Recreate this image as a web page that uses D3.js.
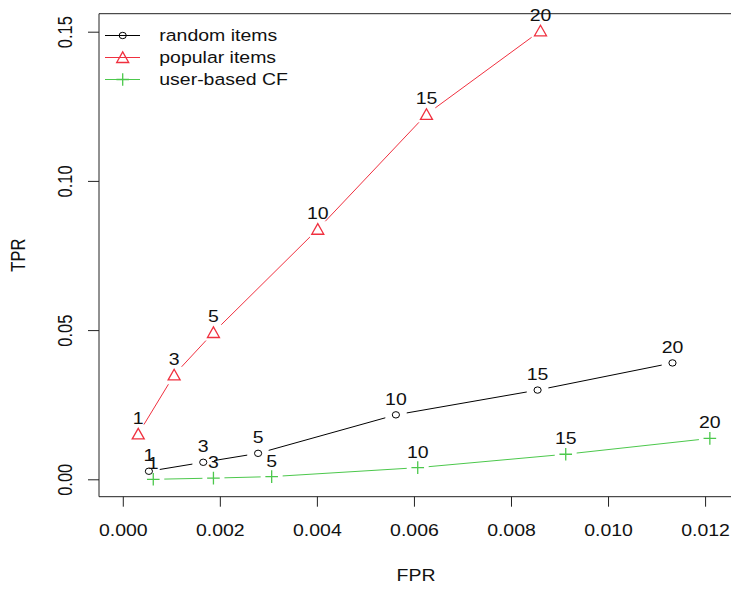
<html><head>
  <script src="https://d3js.org/d3.v7.min.js"></script>
  <style>
    body { margin: 0; background: #fff; }
    text { font-family: 'Liberation Sans', Arial, sans-serif; fill: #111; }
  </style>
</head>
<body>
  <script>
    // list lengths (n) and the three methods
    const nValues = [1, 3, 5, 10, 15, 20]
    const randomFPR = [0.00054, 0.00166, 0.00279, 0.00563, 0.00855, 0.01133]
    const randomTPR = [0.0027, 0.0057, 0.0087, 0.0216, 0.0299, 0.0390]
    const popularFPR = [0.00032, 0.00106, 0.00187, 0.00402, 0.00626, 0.00861]
    const popularTPR = [0.0152, 0.0350, 0.0492, 0.0838, 0.1223, 0.1503]
    const ubcfFPR = [0.00063, 0.00187, 0.00307, 0.00608, 0.00913, 0.01210]
    const ubcfTPR = [0.0000, 0.0004, 0.0009, 0.0039, 0.0084, 0.0137]
    const xTicks = [0, 0.002, 0.004, 0.006, 0.008, 0.010, 0.012]
    const yTicks = [0, 0.05, 0.10, 0.15]
    const seriesNames = ["random items", "popular items", "user-based CF"]

    // picture is stretched horizontally, so draw in a narrower viewBox
    const SX = 1.18
    const W = 731, H = 589
    const VW = W / SX
    const FS = "16.5px"

    const svg = d3.select("body").append("svg")
                  .attr("width", W).attr("height", H)
                  .attr("viewBox", `0 0 ${VW} ${H}`)
                  .attr("preserveAspectRatio", "none")

    const box = {left: 99 / SX, right: 733 / SX, top: 13.7, bottom: 496.7}

    const xScale = d3.scaleLinear().domain([0, 0.012]).range([122.7 / SX, 705 / SX])
    const yScale = d3.scaleLinear().domain([0, 0.15]).range([479.3, 31.7])

    const series = [
      {name: seriesNames[0], fpr: randomFPR, tpr: randomTPR, color: "#000000", shape: "circle"},
      {name: seriesNames[1], fpr: popularFPR, tpr: popularTPR, color: "#F0303F", shape: "triangle"},
      {name: seriesNames[2], fpr: ubcfFPR, tpr: ubcfTPR, color: "#4CC84C", shape: "plus"}
    ]

    // axes
    const bottomAxis = d3.axisBottom(xScale).tickValues(xTicks)
                         .tickSize(10).tickPadding(18).tickFormat(d3.format(".3f"))
    const xg = svg.append("g").attr("transform", `translate(0,${box.bottom})`).call(bottomAxis)
    xg.select(".domain").remove()
    xg.selectAll("line").attr("stroke", "#222").attr("vector-effect", "non-scaling-stroke")
    xg.selectAll("text").style("font-size", FS).style("font-family", "'Liberation Sans', Arial, sans-serif").attr("fill", "#111")

    const leftAxis = d3.axisLeft(yScale).tickValues(yTicks)
                       .tickSize(11 / SX).tickFormat(d3.format(".2f"))
    const yg = svg.append("g").attr("transform", `translate(${box.left},0)`).call(leftAxis)
    yg.select(".domain").remove()
    yg.selectAll("line").attr("stroke", "#222").attr("vector-effect", "non-scaling-stroke")
    yg.selectAll("text")
      .attr("x", null).attr("dy", null)
      .attr("text-anchor", "middle")
      .attr("transform", `translate(${71.7 / SX - box.left},0) rotate(-90)`)
      .style("font-size", FS).style("font-family", "'Liberation Sans', Arial, sans-serif").attr("fill", "#111")

    // box
    svg.append("rect")
       .attr("x", box.left).attr("y", box.top)
       .attr("width", box.right - box.left).attr("height", box.bottom - box.top)
       .attr("fill", "none").attr("stroke", "#222")
       .attr("vector-effect", "non-scaling-stroke")

    // axis titles
    svg.append("text").attr("x", (box.left + box.right) / 2).attr("y", 581)
       .attr("text-anchor", "middle").style("font-size", FS).text("FPR")
    svg.append("text")
       .attr("transform", `translate(${25 / SX},${(box.top + box.bottom) / 2}) rotate(-90)`)
       .attr("text-anchor", "middle").style("font-size", FS).text("TPR")

    // marker drawing
    function drawMarker(g, shape, cx, cy, color) {
      if (shape === "circle") {
        g.append("ellipse").attr("cx", cx).attr("cy", cy).attr("rx", 3.6 / SX).attr("ry", 3.2)
         .attr("fill", "none").attr("stroke", color).attr("vector-effect", "non-scaling-stroke")
      } else if (shape === "triangle") {
        const hw = 6 / SX
        g.append("path").attr("d", `M${cx},${cy - 5.6}L${cx + hw},${cy + 5}L${cx - hw},${cy + 5}Z`)
         .attr("fill", "none").attr("stroke", color).attr("stroke-width", 1.3).attr("vector-effect", "non-scaling-stroke")
      } else {
        const hw = 6.3 / SX
        g.append("path").attr("d", `M${cx - hw},${cy}H${cx + hw}M${cx},${cy - 6.3}V${cy + 6.3}`)
         .attr("fill", "none").attr("stroke", color).attr("stroke-width", 1.3).attr("vector-effect", "non-scaling-stroke")
      }
    }

    // lines with gaps around points (type = "b")
    const gap = 11
    series.forEach(s => {
      const g = svg.append("g")
      const pts = s.fpr.map((f, i) => [xScale(f), yScale(s.tpr[i])])
      for (let i = 0; i < pts.length - 1; i++) {
        const [x1, y1] = pts[i], [x2, y2] = pts[i + 1]
        const L = Math.hypot((x2 - x1) * SX, y2 - y1)
        if (L <= 2 * gap) continue
        const t = gap / L
        g.append("line")
         .attr("x1", x1 + t * (x2 - x1)).attr("y1", y1 + t * (y2 - y1))
         .attr("x2", x2 - t * (x2 - x1)).attr("y2", y2 - t * (y2 - y1))
         .attr("stroke", s.color).attr("stroke-width", 1).attr("vector-effect", "non-scaling-stroke")
      }
      pts.forEach(([px, py], i) => {
        drawMarker(g, s.shape, px, py, s.color)
        g.append("text").attr("x", px).attr("y", py - 10)
         .attr("text-anchor", "middle").style("font-size", FS)
         .text(nValues[i])
      })
    })

    // legend
    const legendY = [35.5, 57.5, 79.5]
    series.forEach((s, i) => {
      const lg = svg.append("g")
      lg.append("line").attr("x1", 105 / SX).attr("x2", 140 / SX)
        .attr("y1", legendY[i]).attr("y2", legendY[i])
        .attr("stroke", s.color).attr("vector-effect", "non-scaling-stroke")
      drawMarker(lg, s.shape, 122.7 / SX, legendY[i], s.color)
      lg.append("text").attr("x", 159.3 / SX).attr("y", legendY[i]).attr("dy", "0.35em")
        .style("font-size", FS).text(s.name)
    })
  </script>
</body></html>
